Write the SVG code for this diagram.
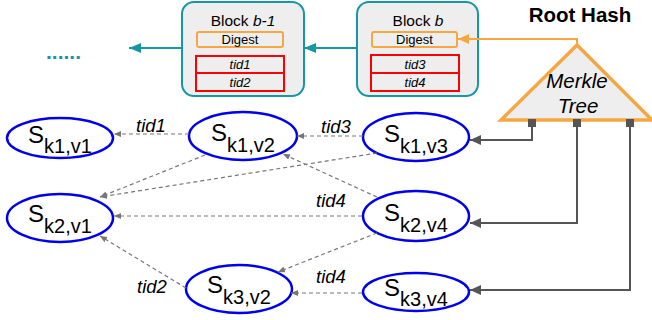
<svg xmlns="http://www.w3.org/2000/svg" width="652" height="320" viewBox="0 0 652 320">
<style>
text{font-family:"Liberation Sans",Arial,sans-serif;fill:#000}
.blk{fill:#eeeeee;stroke:#1597a5;stroke-width:2}
.dig{fill:#eeeeee;stroke:#f5a742;stroke-width:2}
.tid{fill:#eeeeee;stroke:#ff0000;stroke-width:2}
.node{fill:#ffffff;stroke:#0000ee;stroke-width:2.5}
.it{font-style:italic}
.S{font-size:24px}
.sub{font-size:20px}
.lbl{font-size:18.5px;font-style:italic;text-anchor:middle}
.dash{fill:none;stroke:#777;stroke-width:1.2;stroke-dasharray:4 3}
.solid{fill:none;stroke:#555;stroke-width:2}
.teal{fill:none;stroke:#1597a5;stroke-width:2}
.orange{fill:none;stroke:#f5a742;stroke-width:2}
</style>
<defs>
<marker id="aTeal" markerUnits="userSpaceOnUse" markerWidth="12" markerHeight="10" refX="12" refY="5" orient="auto"><path d="M0,0 L12,5 L0,10 Z" fill="#1597a5"/></marker>
<marker id="aOr" markerUnits="userSpaceOnUse" markerWidth="11" markerHeight="10" refX="11" refY="5" orient="auto"><path d="M0,0 L11,5 L0,10 Z" fill="#f5a742"/></marker>
<marker id="aGray" markerUnits="userSpaceOnUse" markerWidth="11" markerHeight="10" refX="11" refY="5" orient="auto"><path d="M0,0 L11,5 L0,10 Z" fill="#555"/></marker>
<marker id="aDash" markerUnits="userSpaceOnUse" markerWidth="7" markerHeight="6" refX="7" refY="3" orient="auto"><path d="M0,0 L7,3 L0,6 Z" fill="#777"/></marker>
</defs>

<g id="block-b-1">
<rect class="blk" x="182" y="2" width="122" height="94" rx="12"/>
<text x="243" y="26" font-size="15.5" text-anchor="middle">Block <tspan class="it">b-1</tspan></text>
<rect class="dig" x="197" y="32" width="86" height="15" rx="2"/>
<text x="240" y="44" font-size="13" text-anchor="middle">Digest</text>
<rect class="tid" x="196" y="56" width="88" height="17"/>
<rect class="tid" x="196" y="73" width="88" height="18"/>
<text x="240" y="69" font-size="13" class="it" text-anchor="middle">tid1</text>
<text x="240" y="87" font-size="13" class="it" text-anchor="middle">tid2</text>
</g>

<g id="block-b">
<rect class="blk" x="357" y="2" width="121" height="94" rx="12"/>
<text x="418" y="26" font-size="15.5" text-anchor="middle">Block <tspan class="it">b</tspan></text>
<rect class="dig" x="372" y="32" width="85" height="15" rx="2"/>
<text x="414.5" y="44" font-size="13" text-anchor="middle">Digest</text>
<rect class="tid" x="371" y="55" width="88" height="18"/>
<rect class="tid" x="371" y="73" width="88" height="18"/>
<text x="415" y="69" font-size="13" class="it" text-anchor="middle">tid3</text>
<text x="415" y="87" font-size="13" class="it" text-anchor="middle">tid4</text>
</g>

<g id="ellipsis">
<text x="46" y="59" font-size="21" font-weight="bold" style="fill:#1597a5">......</text>
</g>

<g id="root-hash">
<text x="580" y="22" font-size="20.5" font-weight="bold" text-anchor="middle">Root Hash</text>
</g>

<g id="merkle-tree">
<polygon points="577,45 501,120 652,120" fill="#eeeeee" stroke="#f5a742" stroke-width="3.5" stroke-linejoin="miter"/>
<text x="577" y="88" font-size="20.5" class="it" text-anchor="middle">Merkle</text>
<text x="578" y="113" font-size="20.5" class="it" text-anchor="middle">Tree</text>
<rect x="528" y="119" width="8" height="8" fill="#555"/>
<rect x="573" y="119" width="8" height="8" fill="#555"/>
<rect x="626" y="119" width="8" height="8" fill="#555"/>
</g>

<g id="s-k1-v1">
<ellipse class="node" cx="60" cy="138" rx="53" ry="20"/>
<text x="60" y="143" text-anchor="middle"><tspan class="S">S</tspan><tspan class="sub" dy="10">k1,v1</tspan></text>
</g>
<g id="s-k1-v2">
<ellipse class="node" cx="243" cy="136" rx="54" ry="24"/>
<text x="243" y="141" text-anchor="middle"><tspan class="S">S</tspan><tspan class="sub" dy="11">k1,v2</tspan></text>
</g>
<g id="s-k1-v3">
<ellipse class="node" cx="416" cy="137" rx="53" ry="24"/>
<text x="416" y="142" text-anchor="middle"><tspan class="S">S</tspan><tspan class="sub" dy="11">k1,v3</tspan></text>
</g>
<g id="s-k2-v1">
<ellipse class="node" cx="60" cy="218" rx="53" ry="24"/>
<text x="60" y="222" text-anchor="middle"><tspan class="S">S</tspan><tspan class="sub" dy="11">k2,v1</tspan></text>
</g>
<g id="s-k2-v4">
<ellipse class="node" cx="416" cy="216" rx="53" ry="25"/>
<text x="416" y="221" text-anchor="middle"><tspan class="S">S</tspan><tspan class="sub" dy="11">k2,v4</tspan></text>
</g>
<g id="s-k3-v2">
<ellipse class="node" cx="239" cy="289" rx="53" ry="24"/>
<text x="239" y="293" text-anchor="middle"><tspan class="S">S</tspan><tspan class="sub" dy="11">k3,v2</tspan></text>
</g>
<g id="s-k3-v4">
<ellipse class="node" cx="416" cy="292" rx="53" ry="19"/>
<text x="416" y="296" text-anchor="middle"><tspan class="S">S</tspan><tspan class="sub" dy="10">k3,v4</tspan></text>
</g>

<g id="connectors">
<path class="teal" d="M357,48 L304,48" marker-end="url(#aTeal)"/>
<path class="teal" d="M182,48 L129,48" marker-end="url(#aTeal)"/>
<path class="orange" d="M577,45 V39 H458" marker-end="url(#aOr)"/>
<path class="solid" d="M532,123 V140 H470" marker-end="url(#aGray)"/>
<path class="solid" d="M577,123 V223 H470" marker-end="url(#aGray)"/>
<path class="solid" d="M630,123 V290 H470" marker-end="url(#aGray)"/>
<path class="dash" d="M189,134 L114,134" marker-end="url(#aDash)"/>
<path class="dash" d="M363,136 L297,136" marker-end="url(#aDash)"/>
<path class="dash" d="M377,197 L283,154" marker-end="url(#aDash)"/>
<path class="dash" d="M377,153 L100,197" marker-end="url(#aDash)"/>
<path class="dash" d="M205,155 L100,197" marker-end="url(#aDash)"/>
<path class="dash" d="M362,216 L114,216" marker-end="url(#aDash)"/>
<path class="dash" d="M377,233 L278,272" marker-end="url(#aDash)"/>
<path class="dash" d="M362,293 L291,293" marker-end="url(#aDash)"/>
<path class="dash" d="M186,288 L100,236" marker-end="url(#aDash)"/>
<text class="lbl" x="151" y="132">tid1</text>
<text class="lbl" x="336" y="133">tid3</text>
<text class="lbl" x="331" y="207">tid4</text>
<text class="lbl" x="331" y="283">tid4</text>
<text class="lbl" x="152" y="293">tid2</text>
</g>
</svg>
